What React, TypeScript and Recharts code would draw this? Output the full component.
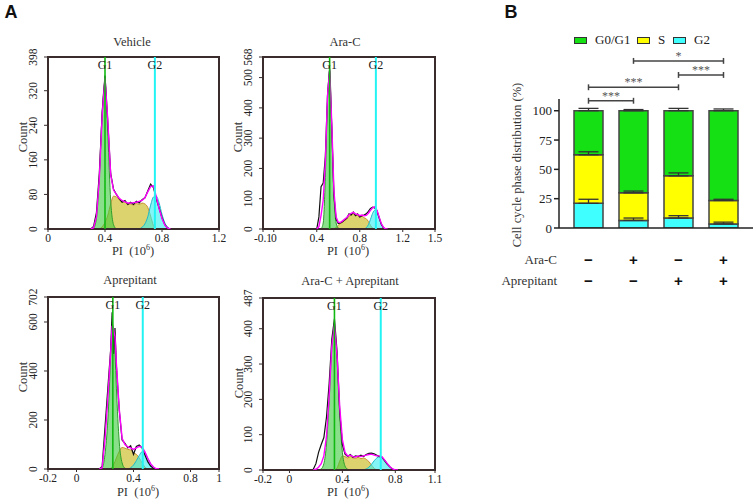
import React from "react";
import {
  ComposedChart,
  Area,
  Line,
  XAxis,
  YAxis,
  ReferenceLine,
  ReferenceArea,
  BarChart,
  Bar,
  ErrorBar,
} from "recharts";

// ─── Panel A: DNA histograms (PI, 10^6) ─────────────────────────────────────

const vehX = [0.30, 0.32, 0.34, 0.36, 0.38, 0.40, 0.42, 0.44, 0.46, 0.48, 0.50, 0.52, 0.54, 0.56, 0.58, 0.60, 0.62, 0.64, 0.66, 0.68, 0.70, 0.72, 0.74, 0.76, 0.78, 0.80, 0.82, 0.84, 0.86];
const vehRaw = [0, 6, 38, 128, 268, 355, 245, 128, 92, 80, 70, 62, 66, 57, 62, 57, 64, 60, 68, 72, 88, 104, 96, 70, 48, 26, 10, 2, 0];
const vehFit = [0, 3, 28, 115, 262, 350, 250, 125, 90, 80, 71, 66, 63, 60, 60, 61, 62, 64, 66, 72, 86, 98, 100, 74, 47, 24, 9, 2, 0];
const vehG1 = [0, 2, 25, 120, 270, 340, 215, 65, 10, 0, null, null, null, null, null, null, null, null, null, null, null, null, null, null, null, null, null, null, null];
const vehS = [null, null, null, 0, 5, 15, 32, 58, 76, 74, 68, 62, 63, 56, 58, 55, 59, 57, 60, 58, 50, 30, 8, 0, null, null, null, null, null];
const vehG2 = [null, null, null, null, null, null, null, null, null, null, null, null, null, null, null, null, null, 0, 4, 12, 28, 55, 74, 76, 60, 34, 14, 4, 0];

const araX = [0.40, 0.42, 0.44, 0.46, 0.48, 0.50, 0.52, 0.54, 0.56, 0.58, 0.60, 0.62, 0.64, 0.66, 0.68, 0.70, 0.72, 0.74, 0.76, 0.78, 0.80, 0.82, 0.84, 0.86, 0.88, 0.90, 0.92, 0.94, 0.96, 0.98, 1.00, 1.02, 1.04, 1.06];
const araRaw = [0, 40, 140, 152, 240, 440, 530, 330, 110, 32, 18, 20, 24, 30, 36, 50, 46, 56, 44, 50, 40, 44, 46, 50, 58, 68, 72, 70, 60, 38, 16, 4, 0, 0];
const araFit = [0, 8, 45, 95, 220, 440, 525, 345, 125, 40, 22, 22, 27, 33, 38, 47, 52, 55, 50, 48, 44, 46, 44, 45, 52, 62, 70, 74, 62, 40, 18, 6, 0, 0];
const araG1 = [null, null, 0, 20, 170, 420, 522, 340, 110, 20, 3, 0, null, null, null, null, null, null, null, null, null, null, null, null, null, null, null, null, null, null, null, null, null, null];
const araS = [null, null, null, null, null, null, null, null, 0, 5, 12, 18, 22, 28, 33, 42, 47, 50, 44, 45, 38, 42, 37, 34, 25, 12, 3, 0, null, null, null, null, null, null];
const araG2 = [null, null, null, null, null, null, null, null, null, null, null, null, null, null, null, null, null, null, null, null, null, null, 0, 4, 14, 32, 52, 62, 56, 36, 16, 5, 0, null];

const aprX = [0.16, 0.18, 0.20, 0.22, 0.24, 0.25, 0.26, 0.27, 0.28, 0.30, 0.32, 0.34, 0.36, 0.38, 0.40, 0.42, 0.44, 0.46, 0.48, 0.50, 0.52, 0.54, 0.56, 0.58];
const aprRaw = [0, 10, 170, 330, 490, 640, 470, 575, 420, 240, 118, 105, 86, 95, 60, 92, 98, 86, 58, 30, 12, 3, 0, 0];
const aprFit = [0, 5, 120, 290, 480, 585, 570, 540, 430, 245, 125, 100, 90, 86, 80, 86, 92, 90, 70, 44, 22, 8, 1, 0];
const aprG1 = [0, 5, 60, 200, 460, 590, 560, 470, 330, 110, 25, 3, 0, null, null, null, null, null, null, null, null, null, null, null];
const aprS = [null, null, null, null, 0, 8, 18, 30, 45, 72, 88, 85, 80, 78, 65, 60, 45, 25, 8, 0, null, null, null, null];
const aprG2 = [null, null, null, null, null, null, null, null, null, null, null, null, 0, 5, 16, 34, 55, 70, 64, 44, 22, 8, 0, null];

const comX = [0.18, 0.20, 0.22, 0.24, 0.26, 0.28, 0.30, 0.32, 0.34, 0.36, 0.38, 0.40, 0.42, 0.44, 0.46, 0.48, 0.50, 0.52, 0.54, 0.56, 0.58, 0.60, 0.62, 0.64, 0.66, 0.68, 0.70, 0.72, 0.74, 0.76, 0.78, 0.80, 0.82];
const comRaw = [2, 18, 50, 72, 92, 150, 245, 370, 428, 335, 165, 72, 45, 38, 44, 36, 40, 38, 42, 38, 44, 47, 48, 46, 42, 38, 36, 26, 16, 8, 2, 0, 0];
const comFit = [0, 2, 8, 18, 40, 95, 210, 350, 412, 322, 178, 86, 50, 40, 42, 38, 37, 40, 38, 40, 42, 44, 45, 42, 40, 40, 37, 28, 18, 9, 3, 0, 0];
const comG1 = [null, null, 0, 3, 18, 74, 197, 344, 400, 304, 153, 50, 11, 2, 0, null, null, null, null, null, null, null, null, null, null, null, null, null, null, null, null, null, null];
const comS = [null, null, null, null, null, null, null, null, 0, 6, 25, 40, 38, 34, 38, 34, 33, 36, 32, 34, 30, 24, 14, 5, 0, null, null, null, null, null, null, null, null];
const comG2 = [null, null, null, null, null, null, null, null, null, null, null, null, null, null, null, null, null, null, null, 0, 3, 8, 16, 26, 34, 38, 36, 28, 18, 9, 3, 0, null];

// ─── Panel B: phase distribution (%) ────────────────────────────────────────

const groups = ["Vehicle", "Ara-C", "Aprepitant", "Ara-C + Aprepitant"];
const araCSign = ["\u2212", "+", "\u2212", "+"];
const aprepSign = ["\u2212", "\u2212", "+", "+"];
const g2Pct = [21, 6.5, 8.5, 3.5];
const sPct = [41.5, 23.5, 36, 20];
const g01Pct = [37.5, 70, 55.5, 76.5];
const g2Sd = [3.5, 2, 2, 1.5];
const sSd = [2.5, 1.5, 2.5, 1];
const g01Sd = [2, 1, 2, 1.5];

// significance: [from, to, level (%), stars]
const sigFrom = [0, 0, 2, 1];
const sigTo = [1, 2, 3, 3];
const sigLevel = [108.5, 120, 130.5, 142.5];
const sigStars = ["***", "***", "***", "*"];

const SERIF = "'Liberation Serif', 'Times New Roman', serif";
const INK = "#222";
const FRAME = "#3a2c2c";

function Txt({ x, y, children, size = 12.5, rotate = false, align = "center", weight = 400, family = SERIF, color = "#333" }: any) {
  const tx = align === "right" ? "-100%" : "-50%";
  return (
    <div
      style={{
        position: "absolute",
        left: x,
        top: y,
        transform: `translate(${tx}, -50%)${rotate ? " rotate(-90deg)" : ""}`,
        whiteSpace: "nowrap",
        fontFamily: family,
        fontSize: size,
        fontWeight: weight,
        color,
        lineHeight: 1,
      }}
    >
      {children}
    </div>
  );
}

function RotatedTick(props: any) {
  const { x, y, payload } = props;
  return (
    <text
      x={x}
      y={y}
      transform={`rotate(-90 ${x} ${y})`}
      textAnchor="middle"
      fontSize={11.5}
      fill={INK}
      fontFamily={SERIF}
    >
      {payload.value}
    </text>
  );
}

function Histogram(p: any) {
  const data = p.xs.map((x: number, i: number) => ({
    x,
    raw: p.raw[i],
    fit: p.fit[i],
    g1: p.g1[i],
    s: p.s[i],
    g2: p.g2[i],
  }));
  const yMax = p.yTicks[p.yTicks.length - 1];
  return (
    <div style={{ position: "absolute", left: p.left - 48, top: p.top - 20 }}>
      <ComposedChart
        width={p.width + 63}
        height={p.height + 40}
        data={data}
        margin={{ top: 20, right: 15, bottom: 0, left: 8 }}
        style={{ fontFamily: SERIF }}
      >
        <XAxis
          dataKey="x"
          type="number"
          domain={p.xDomain}
          ticks={p.xTicks}
          interval={0}
          allowDataOverflow
          axisLine={false}
          tickSize={3}
          tickMargin={2}
          height={20}
          tick={{ fontSize: 11.5, fill: INK, fontFamily: SERIF }}
          tickLine={{ stroke: FRAME }}
        />
        <YAxis
          type="number"
          domain={[0, yMax]}
          ticks={p.yTicks}
          interval={0}
          allowDataOverflow
          axisLine={false}
          tickSize={4}
          tickMargin={7}
          width={40}
          tick={<RotatedTick />}
          tickLine={{ stroke: FRAME }}
        />
        <Area type="monotone" dataKey="s" stroke="#c98e2e" strokeWidth={1} fill="#d4c84a" fillOpacity={0.8} isAnimationActive={false} />
        <Area type="monotone" dataKey="g1" stroke="#2e9e2e" strokeWidth={1} fill="#3ccc3c" fillOpacity={0.6} isAnimationActive={false} />
        <Area type="monotone" dataKey="g2" stroke="#22b8c8" strokeWidth={1} fill="#30eef0" fillOpacity={0.6} isAnimationActive={false} />
        <Line type="linear" dataKey="raw" stroke="#111" strokeWidth={1.2} dot={false} isAnimationActive={false} />
        <Line type="linear" dataKey="fit" stroke="#ff00ff" strokeWidth={1.4} dot={false} isAnimationActive={false} />
        <ReferenceLine
          x={p.g1At}
          stroke="#11b811"
          strokeWidth={1.6}
          label={{ value: "G1", position: "insideTop", offset: 3, fill: INK, fontSize: 12, fontFamily: SERIF }}
        />
        <ReferenceLine
          x={p.g2At}
          stroke="#22f4f4"
          strokeWidth={2}
          label={{ value: "G2", position: "insideTop", offset: 3, fill: INK, fontSize: 12, fontFamily: SERIF }}
        />
        <ReferenceArea
          x1={p.xDomain[0]}
          x2={p.xDomain[1]}
          y1={0}
          y2={yMax}
          fill="none"
          fillOpacity={0}
          stroke={FRAME}
          strokeWidth={2}
        />
      </ComposedChart>
    </div>
  );
}

function SignTick(props: any) {
  const { x, y, index } = props;
  return (
    <g fontFamily="'Liberation Sans', Arial, sans-serif" fontWeight={700} fontSize={15} fill="#111">
      <text x={x} y={y + 31} textAnchor="middle" dominantBaseline="central">
        {araCSign[index]}
      </text>
      <text x={x} y={y + 52} textAnchor="middle" dominantBaseline="central">
        {aprepSign[index]}
      </text>
    </g>
  );
}

function PhaseBars() {
  const rows = groups.map((g, i) => ({
    name: g,
    g2: g2Pct[i],
    s: sPct[i],
    g01: g01Pct[i],
    g2Err: [0, g2Sd[i]],
    sErr: [0, sSd[i]],
    g01Err: [0, g01Sd[i]],
  }));
  const edge = "#444";
  return (
    <div style={{ position: "absolute", left: 500, top: 30 }}>
      <BarChart
        width={253}
        height={258}
        data={rows}
        margin={{ top: 69, right: 0, bottom: 0, left: 29 }}
        barSize={29}
        style={{ fontFamily: SERIF }}
      >
        <XAxis
          dataKey="name"
          axisLine={{ stroke: INK, strokeWidth: 1.5 }}
          tickLine={false}
          tickSize={0}
          tickMargin={0}
          height={60}
          interval={0}
          padding={{ left: 7, right: 7 }}
          tick={<SignTick />}
        />
        <YAxis
          domain={[0, 110]}
          ticks={[0, 25, 50, 75, 100]}
          allowDataOverflow
          width={30}
          axisLine={{ stroke: INK, strokeWidth: 1.5 }}
          tickLine={{ stroke: INK, strokeWidth: 1.5 }}
          tickSize={5}
          tickMargin={2}
          tick={{ fontSize: 13, fill: INK, fontFamily: SERIF }}
        />
        <Bar dataKey="g2" stackId="a" fill="#40ffff" stroke={edge} strokeWidth={1.5} isAnimationActive={false}>
          <ErrorBar dataKey="g2Err" direction="y" width={10} stroke="#333" strokeWidth={1.3} />
        </Bar>
        <Bar dataKey="s" stackId="a" fill="#ffff00" stroke={edge} strokeWidth={1.5} isAnimationActive={false}>
          <ErrorBar dataKey="sErr" direction="y" width={10} stroke="#333" strokeWidth={1.3} />
        </Bar>
        <Bar dataKey="g01" stackId="a" fill="#14e014" stroke={edge} strokeWidth={1.5} isAnimationActive={false}>
          <ErrorBar dataKey="g01Err" direction="y" width={10} stroke="#333" strokeWidth={1.3} />
        </Bar>
        {sigLevel.map((lv, i) => (
          <ReferenceLine
            key={`sig${i}`}
            segment={[
              { x: groups[sigFrom[i]], y: lv },
              { x: groups[sigTo[i]], y: lv },
            ]}
            stroke="#444"
            strokeWidth={1.5}
            ifOverflow="visible"
            label={{ value: sigStars[i], position: "top", offset: 1, fill: "#555", fontSize: 12, fontFamily: SERIF }}
          />
        ))}
        {sigLevel.map((lv, i) => (
          <ReferenceLine
            key={`capL${i}`}
            segment={[
              { x: groups[sigFrom[i]], y: lv - 2.5 },
              { x: groups[sigFrom[i]], y: lv + 2.5 },
            ]}
            stroke="#444"
            strokeWidth={1.5}
            ifOverflow="visible"
          />
        ))}
        {sigLevel.map((lv, i) => (
          <ReferenceLine
            key={`capR${i}`}
            segment={[
              { x: groups[sigTo[i]], y: lv - 2.5 },
              { x: groups[sigTo[i]], y: lv + 2.5 },
            ]}
            stroke="#444"
            strokeWidth={1.5}
            ifOverflow="visible"
          />
        ))}
      </BarChart>
    </div>
  );
}

function LegendKey({ x, color, label }: any) {
  return (
    <>
      <div
        style={{
          position: "absolute",
          left: x,
          top: 37,
          width: 11,
          height: 5,
          background: color,
          border: "1.5px solid #333",
        }}
      />
      <div
        style={{
          position: "absolute",
          left: x + 21,
          top: 33,
          fontFamily: SERIF,
          fontSize: 13,
          color: "#222",
          lineHeight: "14px",
          whiteSpace: "nowrap",
        }}
      >
        {label}
      </div>
    </>
  );
}

function PiLabel({ x, y }: any) {
  return (
    <Txt x={x} y={y} size={12.5}>
      PI&nbsp;&nbsp;(10<sup style={{ fontSize: 8, verticalAlign: "5px" }}>6</sup>)
    </Txt>
  );
}

export default function App() {
  return (
    <div
      style={{
        position: "absolute",
        left: 0,
        top: 0,
        width: 753,
        height: 500,
        background: "#fff",
        overflow: "hidden",
      }}
    >
      <Txt x={11} y={12} size={18} weight={700} color="#111" family="'Liberation Sans', Arial, sans-serif">A</Txt>
      <Txt x={511} y={12} size={18} weight={700} color="#111" family="'Liberation Sans', Arial, sans-serif">B</Txt>

      <Txt x={132} y={42}>Vehicle</Txt>
      <Txt x={345} y={42}>Ara-C</Txt>
      <Txt x={130} y={280}>Aprepitant</Txt>
      <Txt x={350} y={281}>Ara-C + Aprepitant</Txt>

      <Txt x={23} y={137} rotate>Count</Txt>
      <Txt x={238} y={137} rotate>Count</Txt>
      <Txt x={23} y={377} rotate>Count</Txt>
      <Txt x={239} y={383} rotate>Count</Txt>

      <PiLabel x={133} y={251} />
      <PiLabel x={348} y={251} />
      <PiLabel x={138} y={492} />
      <PiLabel x={348} y={492} />

      <Histogram left={48} top={57} width={171} height={172}
        xDomain={[0, 1.2]} xTicks={[0, 0.4, 0.8, 1.2]} yTicks={[0, 80, 160, 240, 320, 398]}
        xs={vehX} raw={vehRaw} fit={vehFit} g1={vehG1} s={vehS} g2={vehG2} g1At={0.4} g2At={0.75} />
      <Histogram left={263} top={57} width={172} height={172}
        xDomain={[-0.1, 1.5]} xTicks={[-0.1, 0, 0.4, 0.8, 1.2, 1.5]} yTicks={[0, 100, 200, 300, 400, 500, 568]}
        xs={araX} raw={araRaw} fit={araFit} g1={araG1} s={araS} g2={araG2} g1At={0.52} g2At={0.95} />
      <Histogram left={48} top={297} width={171} height={172}
        xDomain={[-0.2, 1]} xTicks={[-0.2, 0, 0.4, 0.8, 1]} yTicks={[0, 200, 400, 600, 702]}
        xs={aprX} raw={aprRaw} fit={aprFit} g1={aprG1} s={aprS} g2={aprG2} g1At={0.255} g2At={0.465} />
      <Histogram left={263} top={298} width={172} height={172}
        xDomain={[-0.2, 1.1]} xTicks={[-0.2, 0, 0.4, 0.8, 1.1]} yTicks={[0, 100, 200, 300, 400, 487]}
        xs={comX} raw={comRaw} fit={comFit} g1={comG1} s={comS} g2={comG2} g1At={0.34} g2At={0.69} />

      <LegendKey x={574} color="#14e014" label="G0/G1" />
      <LegendKey x={637} color="#ffff00" label="S" />
      <LegendKey x={673} color="#40ffff" label="G2" />

      <Txt x={517} y={165} size={12.5} rotate>Cell cycle phase distribution (%)</Txt>
      <Txt x={557} y={259} size={13} align="right">Ara-C</Txt>
      <Txt x={557} y={280} size={13} align="right">Aprepitant</Txt>

      <PhaseBars />
    </div>
  );
}
